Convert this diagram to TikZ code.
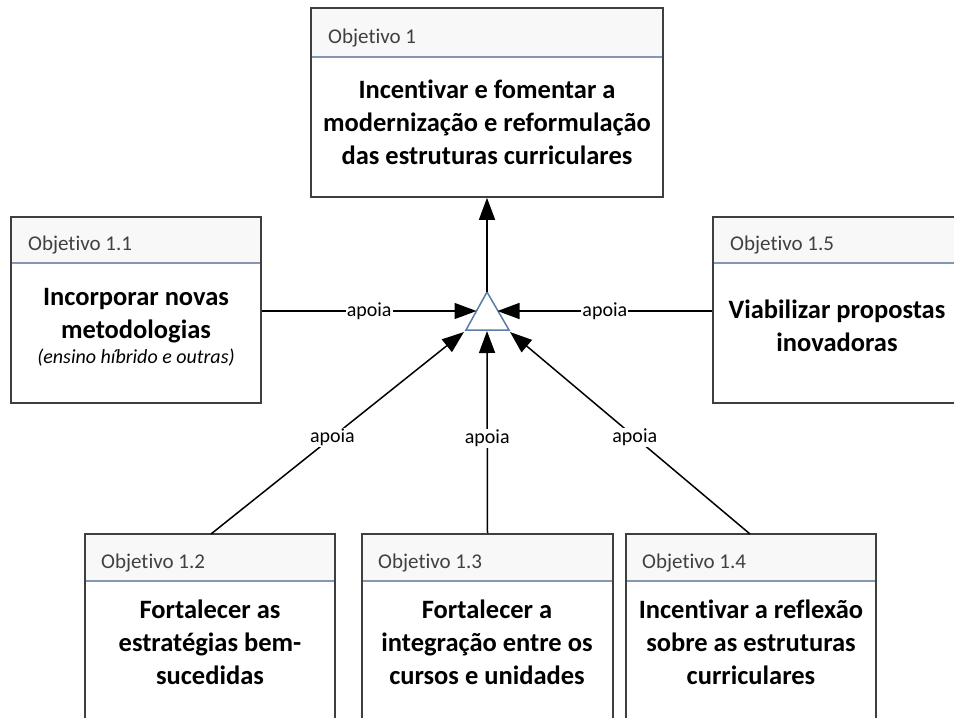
\documentclass[tikz,border=0pt]{standalone}
\usepackage{fontspec}
\setmainfont{Carlito}[Ligatures=NoCommon]
\usetikzlibrary{arrows.meta}
\definecolor{hdrline}{HTML}{8497B0}
\definecolor{hdrfill}{HTML}{F8F8F8}
\definecolor{boxline}{HTML}{3F3F3F}
\definecolor{hdrtext}{HTML}{404040}
\definecolor{triline}{HTML}{5B7BA8}
\begin{document}
\begin{tikzpicture}[x=1pt,y=-1pt,
  objbox/.style={draw=boxline, line width=1.6pt, rectangle, inner sep=0pt},
  hdrtxt/.style={anchor=west, text=hdrtext, font=\fontsize{21}{24}\selectfont, inner sep=0pt},
  bodytxt/.style={align=center, font=\bfseries\fontsize{26.5}{33}\selectfont, inner sep=0pt},
  conn/.style={line width=1.5pt, -{Triangle[length=22pt,width=16pt]}},
  lbl/.style={fill=white, inner sep=1pt, font=\fontsize{20}{22}\selectfont}]
\clip (0,0) rectangle (954,718);
\fill[white] (0,0) rectangle (954,718);

% header bands
\fill[hdrfill] (311,8) rectangle (663,57);
\fill[hdrfill] (11,217) rectangle (261,263);
\fill[hdrfill] (713,217) rectangle (962,263);
\fill[hdrfill] (85,534) rectangle (335,581);
\fill[hdrfill] (362,534) rectangle (613,581);
\fill[hdrfill] (626,534) rectangle (876,581);
\draw[hdrline, line width=2pt] (311,57) -- (663,57);
\draw[hdrline, line width=2pt] (11,263) -- (261,263);
\draw[hdrline, line width=2pt] (713,263) -- (962,263);
\draw[hdrline, line width=2pt] (85,581) -- (335,581);
\draw[hdrline, line width=2pt] (362,581) -- (613,581);
\draw[hdrline, line width=2pt] (626,581) -- (876,581);

% boxes
\node[objbox, minimum width=352pt, minimum height=189pt] (o1) at (487,102.5) {};
\node[objbox, minimum width=250pt, minimum height=186pt] (o11) at (136,310) {};
\node[objbox, minimum width=249pt, minimum height=186pt] (o15) at (837.5,310) {};
\node[objbox, minimum width=250pt, minimum height=188pt] (o12) at (210,628) {};
\node[objbox, minimum width=251pt, minimum height=188pt] (o13) at (487.5,628) {};
\node[objbox, minimum width=250pt, minimum height=188pt] (o14) at (751,628) {};

% header texts
\node[hdrtxt] (h1) at (328,38) {Objetivo 1};
\node[hdrtxt] (h11) at (28,245) {Objetivo 1.1};
\node[hdrtxt] (h15) at (730,245) {Objetivo 1.5};
\node[hdrtxt] (h12) at (101,563) {Objetivo 1.2};
\node[hdrtxt] (h13) at (378,563) {Objetivo 1.3};
\node[hdrtxt] (h14) at (642,563) {Objetivo 1.4};

% body texts
\node[bodytxt] (b1) at (487,122) {Incentivar e fomentar a\\moderniza\c{c}\~ao e reformula\c{c}\~ao\\das estruturas curriculares};
\node[bodytxt] (b11) at (136,327) {Incorporar novas\\metodologias\\[-8pt]{\mdseries\itshape\fontsize{20}{22}\selectfont (ensino h\'ibrido e outras)}};
\node[bodytxt] (b15) at (837,326) {Viabilizar propostas\\inovadoras};
\node[bodytxt] (b12) at (210,642) {Fortalecer as\\estrat\'egias bem-\\sucedidas};
\node[bodytxt] (b13) at (487,642) {Fortalecer a\\integra\c{c}\~ao entre os\\cursos e unidades};
\node[bodytxt] (b14) at (751,642) {Incentivar a reflex\~ao\\sobre as estruturas\\curriculares};

% triangle
\coordinate (tA) at (487,292);
\coordinate (tL) at (466,330);
\coordinate (tR) at (509,330);
\coordinate (tLe) at (476.5,311);
\coordinate (tRe) at (497.5,311);
\coordinate (tB) at (487,331);
\coordinate (tLc) at (464,332);
\coordinate (tRc) at (510,332);
\draw[triline, line width=1.5pt, fill=white, line join=miter] (tA) -- (tL) -- (tR) -- cycle;

% connectors
\draw[conn] (tA) -- (o1.south);
\draw[conn] (o11.east |- tLe) -- node[lbl] {apoia} (tLe);
\draw[conn] (o15.west |- tRe) -- node[lbl] {apoia} (tRe);
\draw[conn] (211,534) -- node[lbl, pos=0.48] {apoia} (tLc);
\draw[conn] (o13.north) -- node[lbl, pos=0.47] {apoia} (tB);
\draw[conn] (750,534) -- node[lbl, pos=0.48] {apoia} (tRc);
\end{tikzpicture}
\end{document}
